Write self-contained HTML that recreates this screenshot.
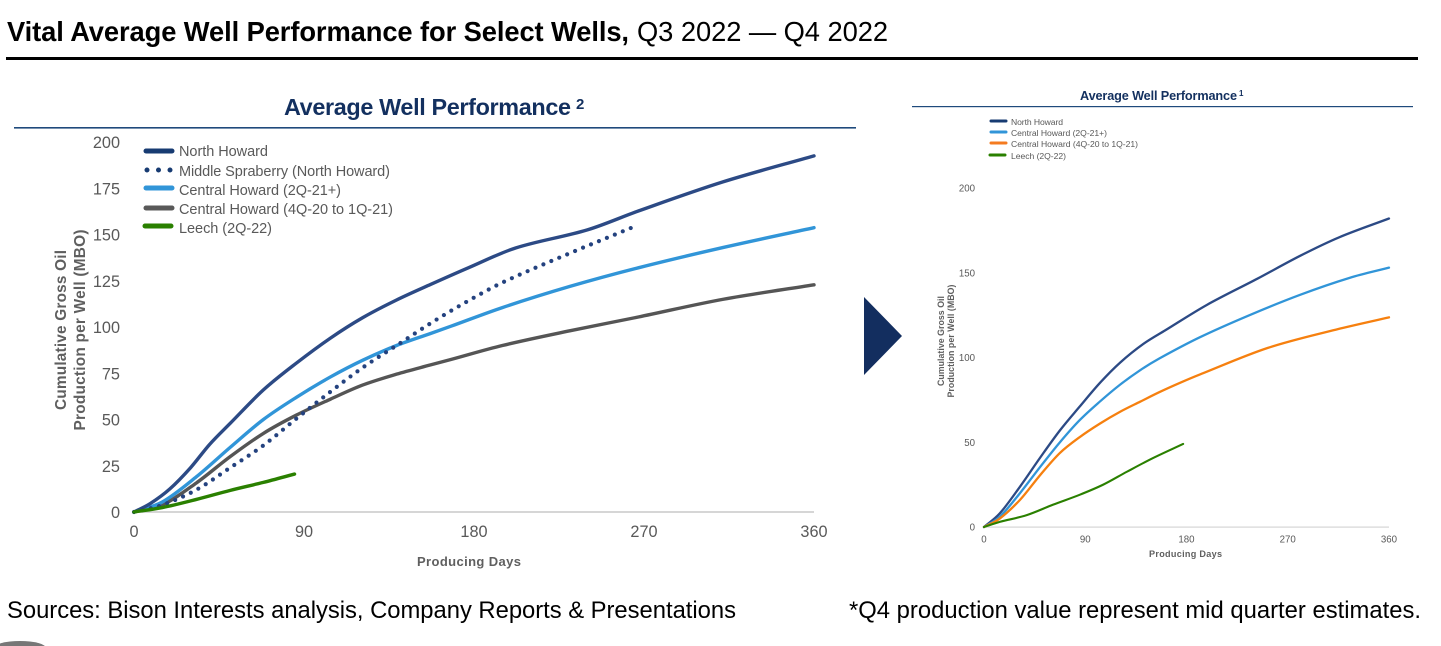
<!DOCTYPE html>
<html lang="en">
<head>
<meta charset="utf-8">
<title>Vital Average Well Performance for Select Wells</title>
<style>
html,body{margin:0;padding:0;background:#fff;width:1441px;height:646px;overflow:hidden}
svg{display:block;font-family:"Liberation Sans",sans-serif}
.soft{filter:blur(.35px)}
</style>
</head>
<body>
<svg id="page" width="1441" height="646" viewBox="0 0 1441 646" xmlns="http://www.w3.org/2000/svg">
  <text x="7" y="41" font-size="27.3" fill="#000"><tspan font-weight="700" textLength="622">Vital Average Well Performance for Select Wells,</tspan><tspan x="637" textLength="251">Q3 2022 — Q4 2022</tspan></text>
  <rect x="6" y="57" width="1412" height="3" fill="#000"/>

  <g id="left-chart" class="soft">
    <text x="284" y="115" font-size="23.4" font-weight="700" fill="#13305f" textLength="287">Average Well Performance</text>
    <text x="576" y="109" font-size="15" font-weight="700" fill="#13305f">2</text>
    <rect x="14" y="127" width="842" height="1.6" fill="#1f4a7c"/>
    <rect x="134" y="511" width="680" height="2" fill="#d6d6d6"/>
    <text transform="translate(66,330) rotate(-90)" text-anchor="middle" font-size="15.4" font-weight="700" fill="#5f5f5f" textLength="160">Cumulative Gross Oil</text>
    <text transform="translate(85,330) rotate(-90)" text-anchor="middle" font-size="15.4" font-weight="700" fill="#5f5f5f" textLength="201">Production per Well (MBO)</text>
    <text x="417" y="566" font-size="13" font-weight="700" fill="#5f5f5f" textLength="104">Producing Days</text>
    <g font-size="14.5" fill="#595959">
      <g><line x1="146" y1="151" x2="172" y2="151" stroke="#173b72" stroke-width="5" stroke-linecap="round"/><text x="179" y="156" textLength="89">North Howard</text></g>
      <g><line x1="147" y1="170" x2="171" y2="170" stroke="#173b72" stroke-width="5" stroke-linecap="round" stroke-dasharray="0 11.5"/><text x="179" y="176" textLength="211">Middle Spraberry (North Howard)</text></g>
      <g><line x1="146" y1="188" x2="172" y2="188" stroke="#3195d8" stroke-width="5" stroke-linecap="round"/><text x="179" y="195" textLength="162">Central Howard (2Q-21+)</text></g>
      <g><line x1="146" y1="208" x2="172" y2="208" stroke="#595959" stroke-width="5" stroke-linecap="round"/><text x="179" y="214" textLength="214">Central Howard (4Q-20 to 1Q-21)</text></g>
      <g><line x1="145" y1="226" x2="171" y2="226" stroke="#2a8000" stroke-width="5" stroke-linecap="round"/><text x="179" y="233" textLength="93">Leech (2Q-22)</text></g>
    </g>
  </g>

  <polygon points="864,297 902,336 864,375" fill="#132e5f"/>

  <g id="right-chart" class="soft">
    <text x="1080" y="100" font-size="12.7" font-weight="700" fill="#13305f" textLength="157">Average Well Performance</text>
    <text x="1239" y="96" font-size="8" font-weight="700" fill="#13305f">1</text>
    <rect x="912" y="106" width="501" height="1.2" fill="#1f4a7c"/>
    <rect x="984" y="526.5" width="405" height="1.2" fill="#d6d6d6"/>
    <text transform="translate(944,341) rotate(-90)" text-anchor="middle" font-size="8.8" font-weight="700" fill="#5f5f5f" textLength="90">Cumulative Gross Oil</text>
    <text transform="translate(954,341) rotate(-90)" text-anchor="middle" font-size="8.8" font-weight="700" fill="#5f5f5f" textLength="113">Production per Well (MBO)</text>
    <text x="1149" y="557" font-size="9.1" font-weight="700" fill="#5f5f5f" textLength="73">Producing Days</text>
    <g font-size="8.6" fill="#595959">
      <g><line x1="991" y1="121" x2="1006" y2="121" stroke="#173b72" stroke-width="3" stroke-linecap="round"/><text x="1011" y="125" textLength="52">North Howard</text></g>
      <g><line x1="991" y1="132" x2="1006" y2="132" stroke="#3195d8" stroke-width="3" stroke-linecap="round"/><text x="1011" y="136" textLength="96">Central Howard (2Q-21+)</text></g>
      <g><line x1="991" y1="143" x2="1006" y2="143" stroke="#f47b20" stroke-width="3" stroke-linecap="round"/><text x="1011" y="147" textLength="127">Central Howard (4Q-20 to 1Q-21)</text></g>
      <g><line x1="990" y1="155" x2="1005" y2="155" stroke="#2a8000" stroke-width="3" stroke-linecap="round"/><text x="1011" y="159" textLength="55">Leech (2Q-22)</text></g>
    </g>
  </g>

  <text x="7" y="618" font-size="23.8" fill="#000" textLength="729">Sources: Bison Interests analysis, Company Reports &amp; Presentations</text>
  <text x="849" y="618" font-size="23.8" fill="#000" textLength="572">*Q4 production value represent mid quarter estimates.</text>
  <ellipse cx="20" cy="648" rx="26" ry="7" fill="#777"/>
</svg>

<script>
// Shared axis labels
const xTickLabels = [0, 90, 180, 270, 360];
const leftYTickLabels = [0, 25, 50, 75, 100, 125, 150, 175, 200];
const rightYTickLabels = [0, 50, 100, 150, 200];

// Left chart series: producing days and cumulative MBO
const leftNorthDays = [0, 8.5, 19, 30, 40, 51, 68.5, 86, 104, 121, 139, 157, 177, 202, 240, 267, 312, 360];
const leftNorthValues = [0, 4.5, 12.5, 24, 36.5, 48, 66, 80.5, 94, 105, 114.6, 123, 132, 142.7, 152.5, 162.7, 178.5, 192.5];
const leftSpraberryDays = [0, 15, 33, 51, 68.5, 86, 104, 121, 139, 157, 175, 195, 231, 263];
const leftSpraberryValues = [0, 3.8, 12, 24, 36, 50.5, 65, 78, 90, 102, 113, 124, 140, 153.5];
const leftBlueDays = [0, 15, 33, 51, 68.5, 86, 104, 121, 139, 157, 168, 195, 231, 267, 312, 360];
const leftBlueValues = [0, 5.4, 19, 35, 50, 62, 73, 82, 90, 96.5, 100.5, 110.5, 122, 132, 143, 153.7];
const leftGrayDays = [0, 15, 33, 51, 68.5, 86, 104, 121, 139, 157, 168, 195, 231, 267, 312, 360];
const leftGrayValues = [0, 3.8, 15.7, 30, 42.5, 52.4, 61, 68.6, 74.5, 79.5, 82.5, 90, 98, 105.4, 115, 122.8];
const leftLeechDays = [0, 15, 33, 51, 68.5, 85];
const leftLeechValues = [0, 2.4, 6.8, 11.7, 16, 20.5];

// Right chart series: producing days and cumulative MBO
const rightNorthDays = [0, 14, 32, 50, 67.5, 85, 103, 121, 141.6, 161, 198, 243, 281, 316, 360];
const rightNorthValues = [0, 8, 23.8, 41, 57, 71, 85, 97, 108, 116, 131, 146.5, 160, 171, 182];
const rightBlueDays = [0, 14, 32, 50, 67.5, 85, 103, 121, 139, 156, 192, 236, 281, 325, 360];
const rightBlueValues = [0, 6, 20, 35.5, 50, 63, 74, 84, 92.6, 99.5, 112, 125, 137, 147, 153];
const rightOrangeDays = [0, 14, 32, 50, 67.5, 85, 103, 121, 139, 156, 174, 192, 252, 310, 360];
const rightOrangeValues = [0, 5, 16, 30.7, 43.7, 53, 61, 68, 74, 79.6, 85, 90, 105.6, 116, 123.7];
const rightLeechDays = [0, 14, 38, 61.5, 85, 106, 127, 150, 177];
const rightLeechValues = [0, 3, 7, 13.2, 19, 25, 32.6, 40.6, 49];

const svgNS = 'http://www.w3.org/2000/svg';

// Axis functions
function leftX(day) { return 134 + day / 360 * 680; }
function leftY(value) { return 512 - value / 200 * 370; }
function rightX(day) { return 984 + day / 360 * 405; }
function rightY(value) { return 527 - value / 200 * 339; }

// Smooth line through the data points (x-based cubic Hermite)
function smoothPath(days, values, xFn, yFn) {
  const pts = days.map(function (d, i) { return [xFn(d), yFn(values[i])]; });
  const n = pts.length;
  const slopes = pts.map(function (p, i) {
    const a = pts[Math.max(i - 1, 0)];
    const b = pts[Math.min(i + 1, n - 1)];
    return (b[1] - a[1]) / (b[0] - a[0]);
  });
  let d = 'M' + pts[0][0].toFixed(2) + ' ' + pts[0][1].toFixed(2);
  for (let i = 0; i < n - 1; i++) {
    const h = (pts[i + 1][0] - pts[i][0]) / 3;
    d += 'C' + (pts[i][0] + h).toFixed(2) + ' ' + (pts[i][1] + slopes[i] * h).toFixed(2) + ' ' +
      (pts[i + 1][0] - h).toFixed(2) + ' ' + (pts[i + 1][1] - slopes[i + 1] * h).toFixed(2) + ' ' +
      pts[i + 1][0].toFixed(2) + ' ' + pts[i + 1][1].toFixed(2);
  }
  return d;
}

function drawSeries(parent, name, days, values, xFn, yFn, color, width, dash) {
  const el = document.createElementNS(svgNS, 'path');
  
  
  el.setAttribute('d', smoothPath(days, values, xFn, yFn));
  el.setAttribute('fill', 'none');
  el.setAttribute('stroke', color);
  el.setAttribute('stroke-width', width);
  el.setAttribute('stroke-linecap', 'round');
  el.setAttribute('stroke-linejoin', 'round');
  if (dash) el.setAttribute('stroke-dasharray', dash);
  parent.appendChild(el);
}

function drawLabel(parent, name, content, x, y, anchor, size) {
  const el = document.createElementNS(svgNS, 'text');
  
  
  el.setAttribute('x', x);
  el.setAttribute('y', y);
  el.setAttribute('text-anchor', anchor);
  el.setAttribute('font-size', size);
  el.setAttribute('fill', '#595959');
  el.textContent = content;
  parent.appendChild(el);
}

const leftChart = document.getElementById('left-chart');
const rightChart = document.getElementById('right-chart');

leftYTickLabels.forEach(function (v) {
  drawLabel(leftChart, 'left-y-tick-' + v, v, 120, leftY(v) + 6, 'end', 16.3);
});
xTickLabels.forEach(function (v) {
  drawLabel(leftChart, 'left-x-tick-' + v, v, leftX(v), 537, 'middle', 16.3);
});
rightYTickLabels.forEach(function (v) {
  drawLabel(rightChart, 'right-y-tick-' + v, v, 975, rightY(v) + 3.5, 'end', 9.7);
});
xTickLabels.forEach(function (v) {
  drawLabel(rightChart, 'right-x-tick-' + v, v, rightX(v), 542.5, 'middle', 9.7);
});

drawSeries(leftChart, 'series-central-howard-4q20', leftGrayDays, leftGrayValues, leftX, leftY, '#555555', 3.4);
drawSeries(leftChart, 'series-central-howard-2q21', leftBlueDays, leftBlueValues, leftX, leftY, '#3195d8', 3.4);
drawSeries(leftChart, 'series-north-howard', leftNorthDays, leftNorthValues, leftX, leftY, '#2c4a85', 3.4);
drawSeries(leftChart, 'series-middle-spraberry', leftSpraberryDays, leftSpraberryValues, leftX, leftY, '#24427f', 4.2, '0 8.6');
drawSeries(leftChart, 'series-leech', leftLeechDays, leftLeechValues, leftX, leftY, '#2a8000', 3.4);

drawSeries(rightChart, 'right-series-north-howard', rightNorthDays, rightNorthValues, rightX, rightY, '#2c4a85', 2.3);
drawSeries(rightChart, 'right-series-central-howard-2q21', rightBlueDays, rightBlueValues, rightX, rightY, '#3195d8', 2.3);
drawSeries(rightChart, 'right-series-central-howard-4q20', rightOrangeDays, rightOrangeValues, rightX, rightY, '#f6800f', 2.3);
drawSeries(rightChart, 'right-series-leech', rightLeechDays, rightLeechValues, rightX, rightY, '#2a8000', 2.1);
</script>
</body>
</html>
